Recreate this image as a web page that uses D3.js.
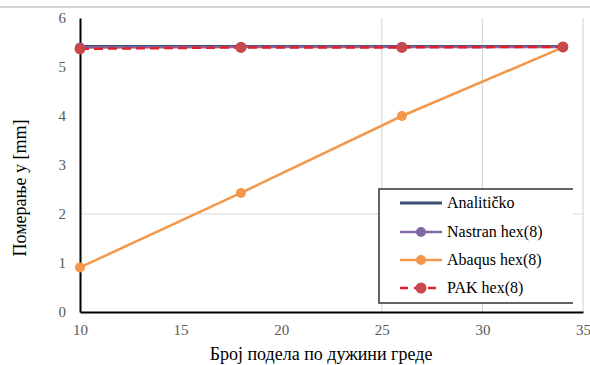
<!DOCTYPE html>
<html>
<head>
<meta charset="utf-8">
<script src="https://cdn.jsdelivr.net/npm/d3@7"></script>
<style>
  body { margin: 0; background: #fff; }
  svg text { font-family: "Tinos", "Liberation Serif", "Times New Roman", "DejaVu Serif", serif; }
</style>
</head>
<body>
<div id="chart"></div>
<script>
// data
var xDivisions = [10, 18, 26, 34];
var analiticko = [5.42, 5.42, 5.42, 5.42];
var nastran = [5.40, 5.41, 5.41, 5.41];
var abaqus = [0.91, 2.43, 4.00, 5.40];
var pak = [5.37, 5.40, 5.40, 5.41];
var xTicks = [10, 15, 20, 25, 30, 35];
var yTicks = [0, 1, 2, 3, 4, 5, 6];
var xGrid = [25, 30, 35];
var yGrid = [2];
var seriesNames = ["Analitičko", "Nastran hex(8)", "Abaqus hex(8)", "PAK hex(8)"];

var svgWidth = 590;
var svgHeight = 365;

var svg = d3.select("#chart")
  .append("svg")
  .attr("width", svgWidth)
  .attr("height", svgHeight);

// scales
var xScale = d3.scaleLinear().domain([10, 35]).range([80, 583]);
var yScale = d3.scaleLinear().domain([0, 6]).range([312, 18]);

// top frame line
svg.append("line")
  .attr("x1", 0).attr("x2", svgWidth)
  .attr("y1", 7).attr("y2", 7)
  .attr("stroke", "#c4c4c4")
  .attr("stroke-width", 1.5);

// gridlines
svg.selectAll(".vgrid")
  .data(xGrid)
  .enter()
  .append("line")
  .attr("x1", d => xScale(d)).attr("x2", d => xScale(d))
  .attr("y1", yScale(6)).attr("y2", yScale(0))
  .attr("stroke", "#d9d9d9")
  .attr("stroke-width", 1.2);

svg.selectAll(".hgrid")
  .data(yGrid)
  .enter()
  .append("line")
  .attr("x1", xScale(10)).attr("x2", xScale(35))
  .attr("y1", d => yScale(d)).attr("y2", d => yScale(d))
  .attr("stroke", "#d9d9d9")
  .attr("stroke-width", 1.2);

// axes
var xAxis = d3.axisBottom(xScale).tickValues(xTicks).tickFormat(d3.format("d")).tickSize(0).tickPadding(12);
var yAxis = d3.axisLeft(yScale).tickValues(yTicks).tickFormat(d3.format("d")).tickSize(0).tickPadding(14);

var gx = svg.append("g")
  .attr("transform", `translate(0, ${yScale(0)})`)
  .call(xAxis);
var gy = svg.append("g")
  .attr("transform", `translate(${xScale(10)}, 0)`)
  .call(yAxis);

[gx, gy].forEach(function(g) {
  g.attr("font-family", null);
  g.select(".domain").attr("stroke", "#000").attr("stroke-width", 2);
  g.selectAll("text")
    .attr("fill", "#595959")
    .attr("font-size", "15px");
});

// lines
var line = d3.line()
  .x((d, i) => xScale(xDivisions[i]))
  .y(d => yScale(d));

svg.append("path")
  .datum(analiticko)
  .attr("d", line)
  .attr("fill", "none")
  .attr("stroke", "#3b4f73")
  .attr("stroke-width", 3);

svg.append("path")
  .datum(nastran)
  .attr("d", line)
  .attr("fill", "none")
  .attr("stroke", "#7f68a6")
  .attr("stroke-width", 2.5);
svg.selectAll(".nastranDot")
  .data(nastran)
  .enter()
  .append("circle")
  .attr("cx", (d, i) => xScale(xDivisions[i]))
  .attr("cy", d => yScale(d))
  .attr("r", 5)
  .attr("fill", "#7f68a6");

svg.append("path")
  .datum(abaqus)
  .attr("d", line)
  .attr("fill", "none")
  .attr("stroke", "#f3984a")
  .attr("stroke-width", 2.5);
svg.selectAll(".abaqusDot")
  .data(abaqus)
  .enter()
  .append("circle")
  .attr("cx", (d, i) => xScale(xDivisions[i]))
  .attr("cy", d => yScale(d))
  .attr("r", 5)
  .attr("fill", "#f3984a");

svg.append("path")
  .datum(pak)
  .attr("d", line)
  .attr("fill", "none")
  .attr("stroke", "#e0202c")
  .attr("stroke-width", 2.5)
  .attr("stroke-dasharray", "9,5");
svg.selectAll(".pakDot")
  .data(pak)
  .enter()
  .append("circle")
  .attr("cx", (d, i) => xScale(xDivisions[i]))
  .attr("cy", d => yScale(d))
  .attr("r", 5.5)
  .attr("fill", "#c9484b");

// axis titles
svg.append("text")
  .attr("x", 321)
  .attr("y", 360)
  .attr("text-anchor", "middle")
  .attr("font-size", "18px")
  .attr("fill", "#000")
  .text("Број подела по дужини греде");

svg.append("text")
  .attr("transform", "translate(26, 188) rotate(-90)")
  .attr("text-anchor", "middle")
  .attr("font-size", "18px")
  .attr("fill", "#000")
  .text("Померање y [mm]");

// legend
var legend = svg.append("g");
legend.append("rect")
  .attr("x", 379).attr("y", 189)
  .attr("width", 194).attr("height", 114)
  .attr("fill", "#fff");
legend.append("path")
  .attr("d", "M573,189 H379 V303 H573")
  .attr("fill", "none")
  .attr("stroke", "#333")
  .attr("stroke-width", 1.5);

var legendY = [203, 232, 260, 288];
var legendColors = ["#3b4f73", "#7f68a6", "#f3984a", "#e0202c"];

seriesNames.forEach(function(name, i) {
  var y = legendY[i];
  legend.append("line")
    .attr("x1", 400).attr("x2", 442)
    .attr("y1", y).attr("y2", y)
    .attr("stroke", legendColors[i])
    .attr("stroke-width", i === 0 ? 3 : 2.5)
    .attr("stroke-dasharray", i === 3 ? "8,6" : null);
  if (i > 0) {
    legend.append("circle")
      .attr("cx", 421).attr("cy", y)
      .attr("r", i === 3 ? 5.5 : 5)
      .attr("fill", i === 3 ? "#c9484b" : legendColors[i]);
  }
  legend.append("text")
    .attr("x", 447)
    .attr("y", y + 5)
    .attr("font-size", "16px")
    .attr("fill", "#000")
    .text(name);
});
</script>
</body>
</html>
